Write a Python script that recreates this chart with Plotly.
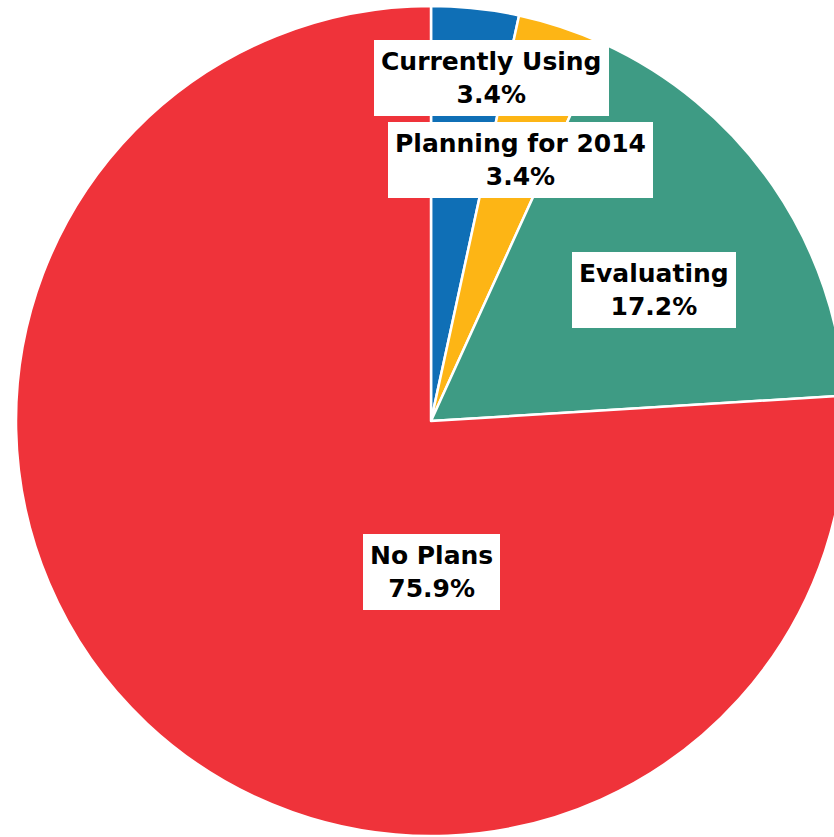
import plotly.graph_objects as go

# Adoption status breakdown
labels = ["Currently Using", "Planning for 2014", "Evaluating", "No Plans"]
values = [3.4, 3.4, 17.2, 75.9]
colors = ["#0F6FB6", "#FDB515", "#3E9B84", "#EF333A"]

# Label box centres in pixels (x from left, y from top)
label_px = [(491, 78), (520, 160), (654, 290), (431, 572)]

W, H = 850, 837
cx, cy, r = 431, 421, 415

fig = go.Figure(go.Pie(
    labels=labels,
    values=values,
    marker=dict(colors=colors, line=dict(color="white", width=2.5)),
    sort=False,
    direction="clockwise",
    rotation=0,
    textinfo="none",
    hoverinfo="label+percent",
    showlegend=False,
    domain=dict(x=[(cx - r) / W, (cx + r) / W],
                y=[(H - cy - r) / H, (H - cy + r) / H]),
))

for lab, val, (px, py) in zip(labels, values, label_px):
    fig.add_annotation(
        x=px / W, y=1 - py / H, xref="paper", yref="paper",
        xanchor="center", yanchor="middle",
        text=f"<b>{lab}</b><br><b>{val:.1f}%</b>",
        showarrow=False,
        font=dict(family="DejaVu Sans", size=25, color="black"),
        bgcolor="white", borderpad=7, borderwidth=0,
    )

fig.update_layout(
    width=W, height=H,
    margin=dict(l=0, r=0, t=0, b=0),
    paper_bgcolor="white", plot_bgcolor="white",
)

fig.write_html(
    "out.html",
    post_script="document.documentElement.style.overflow='hidden';document.body.style.overflow='hidden';",
)
